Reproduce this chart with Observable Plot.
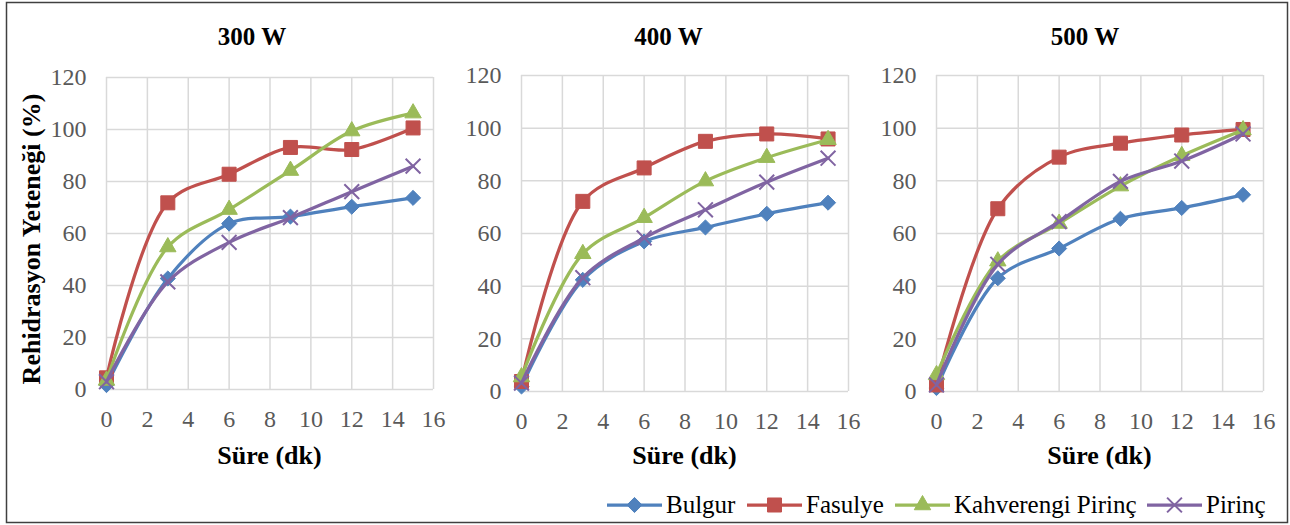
<!DOCTYPE html>
<html>
<head>
<meta charset="utf-8">
<script src="https://cdn.jsdelivr.net/npm/d3@7"></script>
<script src="https://cdn.jsdelivr.net/npm/@observablehq/plot@0.6"></script>
<style>
  html, body { margin: 0; padding: 0; background: #fff; }
  #chart { position: relative; width: 1290px; height: 525px; background: #fff; overflow: hidden; }
  #chart > svg.panel { position: absolute; top: 0; }
  #overlay { position: absolute; left: 0; top: 0; pointer-events: none; }
</style>
</head>
<body>
<div id="chart"></div>
<script>
// ---- data ----
const times = [0, 3, 6, 9, 12, 15];
const seriesNames = ["Bulgur", "Fasulye", "Kahverengi Pirinç", "Pirinç"];
const panelTitles = ["300 W", "400 W", "500 W"];
const xTicks = [0, 2, 4, 6, 8, 10, 12, 14, 16];
const yTicks = [0, 20, 40, 60, 80, 100, 120];

const bulgur300 = [1.7, 42.7, 63.8, 66.5, 70.3, 73.7];
const fasulye300 = [4.5, 71.8, 82.8, 93.1, 92.3, 100.6];
const kahverengi300 = [3.5, 54.8, 69.2, 84.2, 99.4, 106.3];
const pirinc300 = [3.0, 41.4, 56.6, 66.1, 76.1, 85.9];

const bulgur400 = [1.9, 42.4, 57.0, 62.3, 67.5, 71.7];
const fasulye400 = [3.8, 72.2, 84.9, 95.0, 97.8, 95.9];
const kahverengi400 = [5.5, 52.3, 66.0, 79.9, 88.8, 95.6];
const pirinc400 = [3.2, 43.2, 58.3, 69.0, 79.5, 88.6];

const bulgur500 = [1.3, 43.0, 54.3, 65.6, 69.7, 74.7];
const fasulye500 = [2.5, 69.4, 89.0, 94.3, 97.4, 99.5];
const kahverengi500 = [6.3, 49.5, 63.8, 78.0, 89.5, 99.3];
const pirinc500 = [2.5, 48.3, 64.5, 79.8, 87.5, 97.8];

const panelSeries = [
  [bulgur300, fasulye300, kahverengi300, pirinc300],
  [bulgur400, fasulye400, kahverengi400, pirinc400],
  [bulgur500, fasulye500, kahverengi500, pirinc500]
];

// ---- styling ----
const colors = ["#4F81BD", "#C0504D", "#9BBB59", "#8064A2"];
const symbols = ["diamond2", "square", "triangle", "times"];
const symbolR = [6.8, 7.9, 6.1, 6.8];
const serif = "'Liberation Serif', 'Times New Roman', serif";

// panel geometry (plot frame in page px)
const frames = [
  {left: 106, top: 77, bottom: 389},
  {left: 521, top: 75, bottom: 391},
  {left: 936, top: 75, bottom: 391}
];
const plotW = 327, ml = 80, mr = 15, mb = 50;
const titleX = [252, 668.5, 1085];

const chart = document.getElementById("chart");

panelTitles.forEach((title, pi) => {
  const rows = [];
  seriesNames.forEach((s, si) => {
    panelSeries[pi][si].forEach((v, ti) => rows.push({panel: title, series: s, t: times[ti], v}));
  });
  const f = frames[pi];
  const marks = [
    Plot.gridX(xTicks, {stroke: "#d9d9d9", strokeOpacity: 1, strokeWidth: 1.5}),
    Plot.gridY(yTicks, {stroke: "#d9d9d9", strokeOpacity: 1, strokeWidth: 1.5}),
    Plot.axisX(xTicks, {tickSize: 0, tickPadding: 20, color: "#595959", fontSize: 24, fontFamily: serif, label: null}),
    Plot.axisY(yTicks, {tickSize: 0, tickPadding: 20, color: "#595959", fontSize: 24, fontFamily: serif, label: null})
  ];
  seriesNames.forEach((s, si) => {
    const d = rows.filter(r => r.series === s);
    marks.push(Plot.line(d, {x: "t", y: "v", stroke: "series", strokeWidth: 3.25, curve: "catmull-rom"}));
    if (symbols[si] === "times") {
      marks.push(Plot.dot(d, {x: "t", y: "v", stroke: "series", fill: "none", symbol: () => symbols[si], r: symbolR[si], strokeWidth: 2}));
    } else {
      marks.push(Plot.dot(d, {x: "t", y: "v", stroke: "series", fill: "series", symbol: () => symbols[si], r: symbolR[si], strokeWidth: 1}));
    }
  });
  const svg = Plot.plot({
    width: ml + plotW + mr,
    height: f.bottom + mb,
    marginLeft: ml,
    marginRight: mr,
    marginTop: f.top,
    marginBottom: mb,
    style: {background: "transparent", fontFamily: serif, fontSize: "24px", overflow: "visible"},
    x: {domain: [0, 16], label: null},
    y: {domain: [0, 120], label: null},
    color: {domain: seriesNames, range: colors},
    symbol: {domain: symbols, range: symbols},
    marks
  });
  svg.classList.add("panel");
  svg.style.left = (f.left - ml) + "px";
  svg.style.position = "absolute";
  svg.style.top = "0px";
  chart.appendChild(svg);
});

// ---- overlay: frame, titles, axis titles, legend ----
const ov = d3.select(chart).append("svg")
  .attr("id", "overlay")
  .attr("width", 1290).attr("height", 525)
  .style("font-family", serif);

ov.append("rect")
  .attr("x", 6.5).attr("y", 2.5).attr("width", 1281).attr("height", 520)
  .attr("fill", "none").attr("stroke", "#404040").attr("stroke-width", 1.5);

panelTitles.forEach((t, i) => {
  ov.append("text").attr("x", titleX[i]).attr("y", 45)
    .attr("text-anchor", "middle").attr("font-weight", "bold").attr("font-size", 25)
    .attr("fill", "#000").text(t);
  const cx = frames[i].left + plotW / 2;
  ov.append("text").attr("x", cx).attr("y", 464)
    .attr("text-anchor", "middle").attr("font-weight", "bold").attr("font-size", 26)
    .attr("fill", "#000").text("Süre (dk)");
});

ov.append("text")
  .attr("transform", "translate(40,239) rotate(-90)")
  .attr("text-anchor", "middle").attr("font-weight", "bold").attr("font-size", 26)
  .attr("fill", "#000").text("Rehidrasyon Yeteneği (%)");

// legend
const legendX = [607, 747, 895, 1147];
const legendY = 505;
const d3sym = {diamond2: d3.symbolDiamond2, square: d3.symbolSquare, triangle: d3.symbolTriangle, times: d3.symbolTimes};
seriesNames.forEach((s, i) => {
  const g = ov.append("g").attr("transform", `translate(${legendX[i]},${legendY})`);
  g.append("line").attr("x1", 0).attr("x2", 55).attr("y1", 0).attr("y2", 0)
    .attr("stroke", colors[i]).attr("stroke-width", 3.25);
  const size = Math.PI * symbolR[i] * symbolR[i];
  const p = g.append("path").attr("transform", "translate(27.5,0)")
    .attr("d", d3.symbol(d3sym[symbols[i]], size)());
  if (symbols[i] === "times") p.attr("fill", "none").attr("stroke", colors[i]).attr("stroke-width", 2);
  else p.attr("fill", colors[i]).attr("stroke", colors[i]).attr("stroke-width", 1);
  g.append("text").attr("x", 59).attr("y", 0).attr("dy", "0.33em")
    .attr("font-size", 25).attr("fill", "#000").text(s);
});
</script>
</body>
</html>
